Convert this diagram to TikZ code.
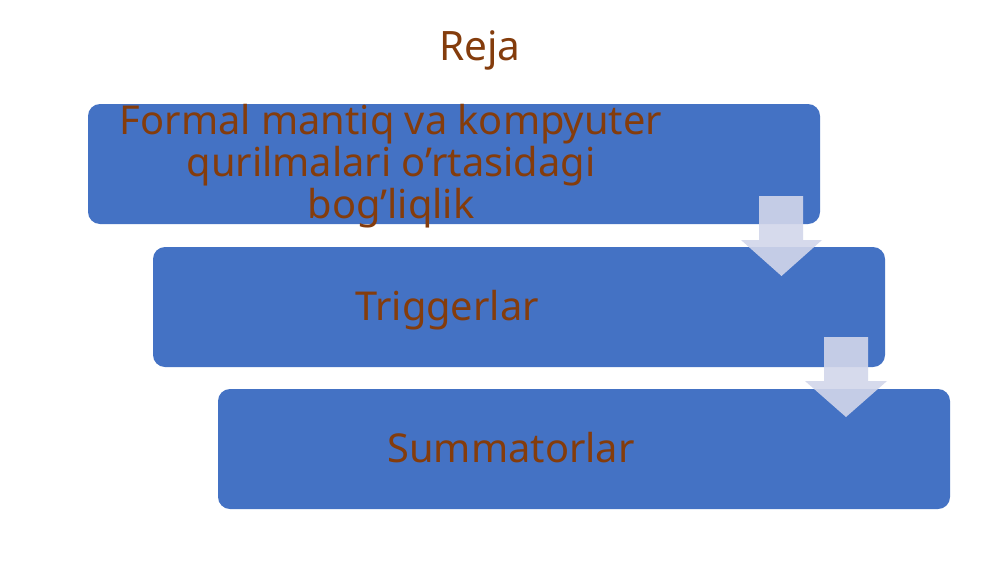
\documentclass[tikz,border=0pt]{standalone}
\usepackage{fontspec}
\setmainfont{Noto Sans}
\definecolor{boxblue}{RGB}{68,114,196}
\definecolor{txtbrown}{RGB}{132,60,12}
\definecolor{arrowfill}{RGB}{210,214,234}
\begin{document}
\begin{tikzpicture}[x=1pt,y=-1pt,
  stagebox/.style={fill=boxblue, rounded corners=12pt, minimum width=732pt, minimum height=120pt, inner sep=0pt, draw=none},
  stagetext/.style={text=txtbrown, font=\fontsize{39.8}{42}\selectfont, align=center, inner sep=0pt},
  downarrow/.style={fill=arrowfill, fill opacity=0.9}]
\useasboundingbox[fill=white] (0,0) rectangle (1000,562);
\node[text=txtbrown, font=\fontsize{40.5}{44}\selectfont, inner sep=0pt, anchor=base] (title) at (480,60) {Reja};
\node[stagebox] (b1) at (454,164) {};
\node[stagebox] (b2) at (519,307) {};
\node[stagebox] (b3) at (584,449) {};
\fill[downarrow] (759,196) -- (803,196) -- (803,240) -- (822,240) -- (781.5,276) -- (741,240) -- (759,240) -- cycle;
\fill[downarrow] (824,337) -- (868,337) -- (868,381) -- (887,381) -- (846,417) -- (805,381) -- (824,381) -- cycle;
\node[stagetext] (t1) at (391,166) {Formal mantiq va kompyuter\\qurilmalari o’rtasidagi\\bog’liqlik};
\node[stagetext, anchor=base] (t2) at (447,320) {Triggerlar};
\node[stagetext, anchor=base] (t3) at (511,462) {Summatorlar};
\end{tikzpicture}
\end{document}
